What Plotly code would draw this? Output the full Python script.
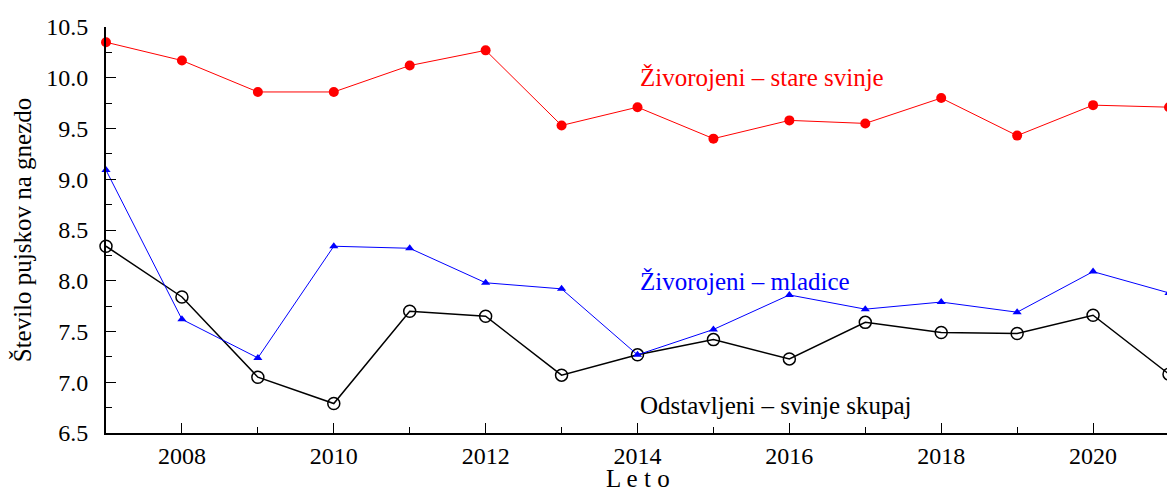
import plotly.graph_objects as go

years = list(range(2007, 2022))
stare_svinje = [10.35, 10.17, 9.86, 9.86, 10.12, 10.27, 9.53, 9.71, 9.40, 9.58, 9.55, 9.80, 9.43, 9.73, 9.71]
mladice = [9.09, 7.62, 7.24, 8.34, 8.32, 7.98, 7.92, 7.27, 7.52, 7.86, 7.72, 7.79, 7.69, 8.09, 7.88]
odstavljeni = [8.34, 7.84, 7.05, 6.79, 7.70, 7.65, 7.07, 7.27, 7.42, 7.23, 7.59, 7.49, 7.48, 7.66, 7.08]

x_ticks = [2008, 2010, 2012, 2014, 2016, 2018, 2020]
y_ticks = [6.5, 7.0, 7.5, 8.0, 8.5, 9.0, 9.5, 10.0, 10.5]

FONT = "'Liberation Serif', 'Times New Roman', Times, serif"

fig = go.Figure()
fig.add_trace(go.Scatter(x=years, y=odstavljeni, mode="lines+markers",
                         line=dict(color="black", width=1.5),
                         marker=dict(symbol="circle-open", size=12, color="black", line=dict(width=1.5)),
                         cliponaxis=False, showlegend=False))
fig.add_trace(go.Scatter(x=years, y=mladice, mode="lines+markers",
                         line=dict(color="blue", width=1),
                         marker=dict(symbol="triangle-up", size=8, color="blue"),
                         cliponaxis=False, showlegend=False))
fig.add_trace(go.Scatter(x=years, y=stare_svinje, mode="lines+markers",
                         line=dict(color="red", width=1),
                         marker=dict(symbol="circle", size=10, color="red"),
                         cliponaxis=False, showlegend=False))

fig.add_annotation(x=2014.0, y=10.0, text="Živorojeni – stare svinje", showarrow=False,
                   xanchor="left", yanchor="middle", font=dict(color="red", size=25, family=FONT))
fig.add_annotation(x=2014.0, y=7.99, text="Živorojeni – mladice", showarrow=False,
                   xanchor="left", yanchor="middle", font=dict(color="blue", size=25, family=FONT))
fig.add_annotation(x=2014.0, y=6.77, text="Odstavljeni – svinje skupaj", showarrow=False,
                   xanchor="left", yanchor="middle", font=dict(color="black", size=25, family=FONT))
# x-axis title
fig.add_annotation(x=0.5, xref="paper", y=-58 / 408, yref="paper", text="L e t o", showarrow=False,
                   xanchor="center", yanchor="bottom", yshift=-3, font=dict(color="black", size=25, family=FONT))

fig.update_layout(
    width=1167, height=483,
    margin=dict(l=98, r=6, t=17, b=58),
    plot_bgcolor="white", paper_bgcolor="white",
    font=dict(family=FONT, size=22, color="black"),
    xaxis=dict(range=[2007, 2021], tickvals=x_ticks, ticktext=[str(v) for v in x_ticks],
               ticks="inside", ticklen=10, tickwidth=1, tickcolor="black",
               minor=dict(tickvals=[2009, 2011, 2013, 2015, 2017, 2019, 2021], ticks="inside", ticklen=6, tickcolor="black"),
               showline=True, linecolor="black", linewidth=2, showgrid=False, zeroline=False,
               automargin=False,
               tickfont=dict(size=24, family=FONT)),
    yaxis=dict(range=[6.5, 10.5], tickvals=y_ticks, ticktext=[f"{v:.1f}" for v in y_ticks],
               ticks="inside", ticklen=10, tickwidth=1, tickcolor="black",
               minor=dict(dtick=0.25, tick0=6.5, ticks="inside", ticklen=6, tickcolor="black"),
               showline=True, linecolor="black", linewidth=2, showgrid=False, zeroline=False,
               ticklabelstandoff=11,
               tickfont=dict(size=24, family=FONT),
               title=dict(text="Število pujskov na gnezdo", font=dict(size=25, family=FONT), standoff=8)),
)

fig.write_html("out.html")
